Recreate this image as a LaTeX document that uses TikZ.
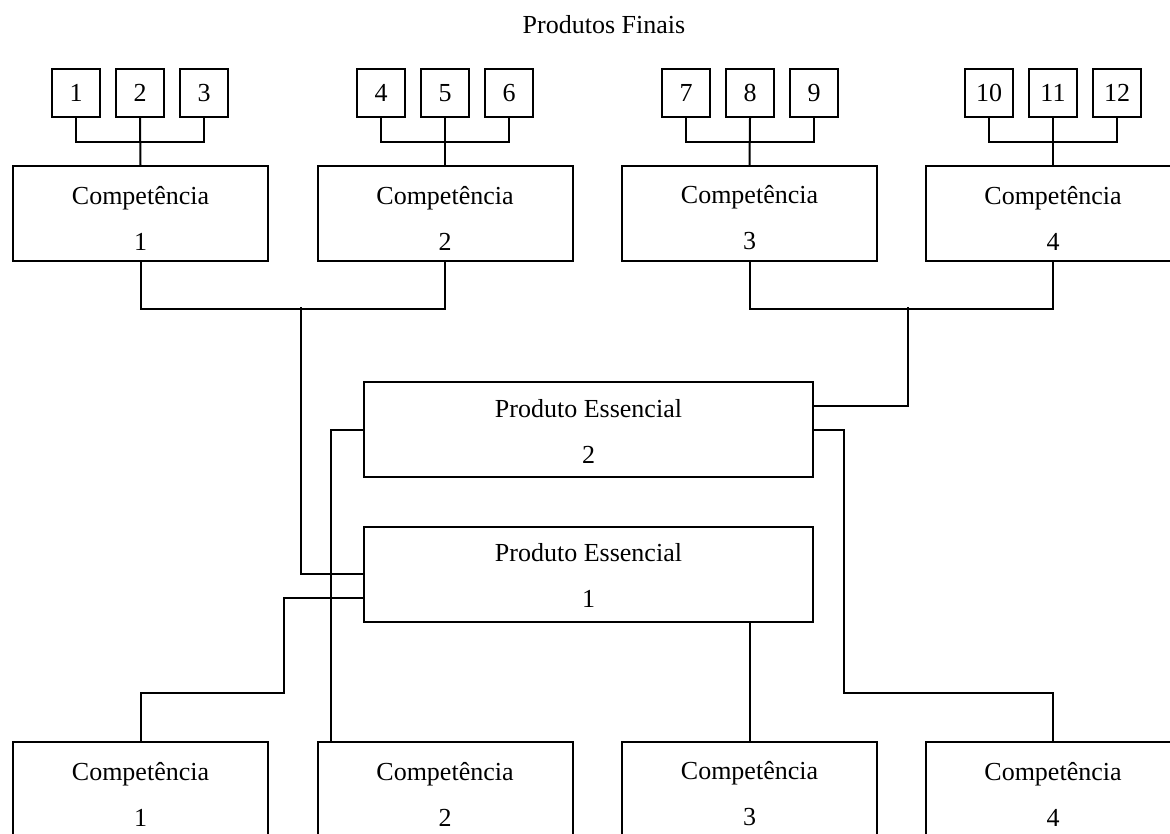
\documentclass[tikz,border=0pt]{standalone}
\usepackage{fontspec}
\setmainfont{Liberation Serif}
\newcommand{\cstrut}{\rule{0pt}{20.4pt}}
\newcommand{\pstrut}{\rule{0pt}{16pt}}
\begin{document}
\begin{tikzpicture}[x=0.75pt,y=-0.75pt,
  every node/.style={font=\fontsize{19.5pt}{34.5pt}\selectfont},
  ln/.style={line width=1.5pt, line cap=rect},
  sbox/.style={draw, line width=1.5pt, minimum width=36pt, minimum height=36pt, inner sep=0pt},
  cbox/.style={draw, line width=1.5pt, minimum width=191.25pt, minimum height=71.25pt, align=center, inner sep=0pt},
  pbox/.style={draw, line width=1.5pt, minimum width=336.75pt, minimum height=71.25pt, align=center, inner sep=0pt}]
\useasboundingbox (0,0) rectangle (1170,833);
\clip (0,0) rectangle (1170,833);

\node (title) at (604,25) {Produtos Finais};

% small product boxes
\node[sbox] (s1) at (76,93) {1};
\node[sbox] (s2) at (140,93) {2};
\node[sbox] (s3) at (204,93) {3};
\node[sbox] (s4) at (381,93) {4};
\node[sbox] (s5) at (445,93) {5};
\node[sbox] (s6) at (509,93) {6};
\node[sbox] (s7) at (686,93) {7};
\node[sbox] (s8) at (750,93) {8};
\node[sbox] (s9) at (814,93) {9};
\node[sbox] (s10) at (989,93) {10};
\node[sbox] (s11) at (1053,93) {11};
\node[sbox] (s12) at (1117,93) {12};

% top competence boxes
\node[cbox] (c1) at (140.5,213.5) {\cstrut Competência\\1};
\node[cbox] (c2) at (445,213.5) {\cstrut Competência\\2};
\node[cbox] (c3) at (749.5,213.5) {\cstrut Competência\\3};
\node[cbox] (c4) at (1053,213.5) {\cstrut Competência\\4};

% core products
\node[pbox] (pe2) at (588.5,429.5) {\pstrut Produto Essencial\\2};
\node[pbox] (pe1) at (588.5,574) {\pstrut Produto Essencial\\1};

% bottom competence boxes
\node[cbox] (b1) at (140.5,789.5) {\cstrut Competência\\1};
\node[cbox] (b2) at (445,789.5) {\cstrut Competência\\2};
\node[cbox] (b3) at (749.5,789.5) {\cstrut Competência\\3};
\node[cbox] (b4) at (1053,789.5) {\cstrut Competência\\4};

% products to competences
\draw[ln] (s1.south) -- ++(0,24) -| (s3.south);
\draw[ln] (s2.south) -- (c1.north);
\draw[ln] (s4.south) -- ++(0,24) -| (s6.south);
\draw[ln] (s5.south) -- (c2.north);
\draw[ln] (s7.south) -- ++(0,24) -| (s9.south);
\draw[ln] (s8.south) -- (c3.north);
\draw[ln] (s10.south) -- ++(0,24) -| (s12.south);
\draw[ln] (s11.south) -- (c4.north);

% competences to core products
\coordinate (j12) at (301,308);
\coordinate (j34) at (908,308);
\draw[ln] (c1.south) -- ++(0,47) -| (c2.south);
\draw[ln] (j12) |- (pe1.west);
\draw[ln] (c3.south) -- ++(0,47) -| (c4.south);
\draw[ln] (j34) |- ([yshift=17.6pt]pe2.east);

% core products to bottom competences
\coordinate (k1) at (284,693);
\coordinate (k4) at (844,693);
\draw[ln] ([yshift=-18pt]pe1.west) -| (k1) -| (b1.north);
\draw[ln] (pe2.west) -| ([xshift=10.9pt]b2.north west);
\draw[ln] (pe1.south -| b3.north) -- (b3.north);
\draw[ln] (pe2.east) -| (k4) -| (b4.north);
\end{tikzpicture}
\end{document}
